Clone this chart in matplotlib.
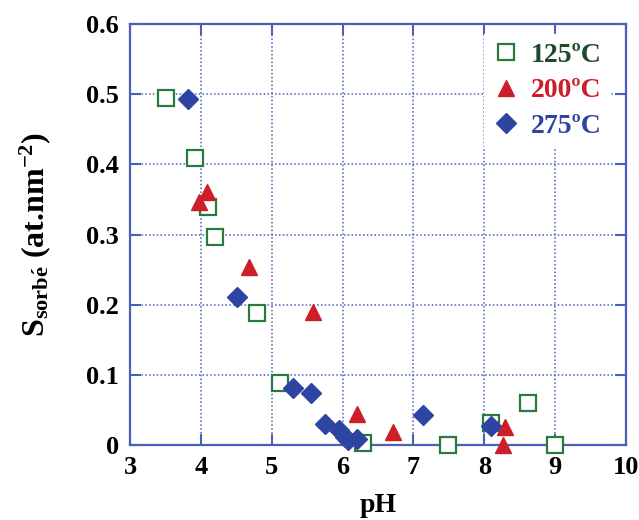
import matplotlib
matplotlib.use("Agg")
from matplotlib import pyplot as plt

# Data
ph_125 = [3.51, 3.92, 4.10, 4.20, 4.79, 5.12, 6.29, 7.49, 8.10, 8.61, 9.00]
s_125 = [0.494, 0.409, 0.339, 0.296, 0.188, 0.088, 0.003, 0.000, 0.031, 0.060, 0.000]

ph_200 = [3.97, 4.08, 4.68, 5.58, 6.20, 6.71, 8.29, 8.26]
s_200 = [0.346, 0.360, 0.254, 0.190, 0.044, 0.019, 0.026, 0.000]

ph_275 = [3.82, 4.51, 5.30, 5.55, 5.75, 5.95, 6.03, 6.08, 6.20, 7.14, 8.10]
s_275 = [0.493, 0.211, 0.081, 0.074, 0.030, 0.021, 0.012, 0.007, 0.008, 0.043, 0.027]

x_ticks = [3, 4, 5, 6, 7, 8, 9, 10]
y_ticks = [0, 0.1, 0.2, 0.3, 0.4, 0.5, 0.6]
y_tick_labels = ["0", "0.1", "0.2", "0.3", "0.4", "0.5", "0.6"]

green = "#2a7a3e"
red = "#cc1f2a"
blue = "#2d44a3"
axis_blue = "#4a5fb8"

plt.rcParams["font.family"] = "Liberation Serif"
plt.rcParams["font.weight"] = "bold"
plt.rcParams["mathtext.fontset"] = "custom"
plt.rcParams["mathtext.rm"] = "Liberation Serif:bold"
plt.rcParams["mathtext.it"] = "Liberation Serif:bold"
plt.rcParams["mathtext.bf"] = "Liberation Serif:bold"

fig = plt.figure(figsize=(6.39, 5.2), dpi=100)
ax = fig.add_axes([0.2034, 0.1442, 0.7763, 0.8096])

ax.plot(ph_125, s_125, "s", mfc="white", mec=green, mew=1.6, ms=12,
        label="125ºC", zorder=3, clip_on=False)
ax.plot(ph_200, s_200, "^", color=red, ms=12, label="200ºC", zorder=3,
        clip_on=False)
ax.plot(ph_275, s_275, "D", color=blue, ms=10, label="275ºC", zorder=3,
        clip_on=False)

ax.set_xlim(3, 10)
ax.set_ylim(0, 0.6)
ax.set_xticks(x_ticks)
ax.set_yticks(y_ticks)
ax.set_yticklabels(y_tick_labels)
ax.tick_params(direction="in", length=8, width=1.5, color=axis_blue,
               top=True, right=True, labelsize=19, pad=8)
for sp in ax.spines.values():
    sp.set_color(axis_blue)
    sp.set_linewidth(1.6)
ax.grid(True, linestyle=(0, (1, 1.5)), color=axis_blue, linewidth=1.1)

ax.set_xlabel("pH", fontsize=20, fontweight="bold", labelpad=10)
ax.set_ylabel(r"S$_{\mathrm{sorb\acute{e}}}$ (at.nm$^{\mathrm{-2}}$)", fontsize=23,
              fontweight="bold", labelpad=24)

leg = ax.legend(loc="upper right", bbox_to_anchor=(0.988, 1.0), frameon=True,
                handletextpad=0.4, borderpad=0.3, labelspacing=0.37,
                handlelength=1.0, borderaxespad=0.35, fancybox=False,
                prop={"size": 20, "weight": "bold"})
leg.get_frame().set_edgecolor("white")
leg.get_frame().set_alpha(1.0)
for text, c in zip(leg.get_texts(), ["#1d4a2a", red, blue]):
    text.set_color(c)

fig.savefig("out.png", dpi=100)
